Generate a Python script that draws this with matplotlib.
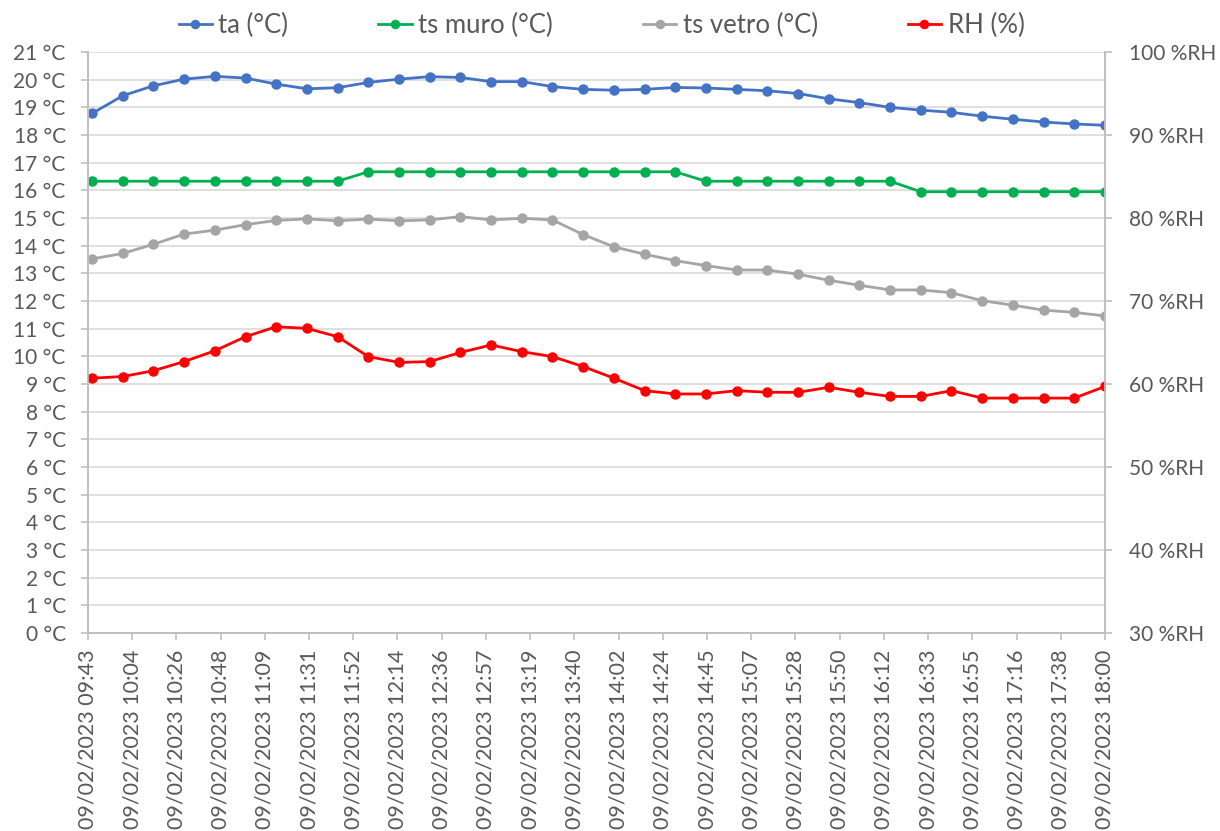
import matplotlib
matplotlib.use("Agg")
import matplotlib.pyplot as plt
import matplotlib.dates as mdates
import numpy as np
from datetime import datetime

plt.rcParams['font.family'] = ['Lato', 'DejaVu Sans']

day = "09/02/2023"
times = ["09:45", "10:00", "10:15", "10:30", "10:45", "11:00", "11:15", "11:30", "11:45",
         "12:00", "12:15", "12:30", "12:45", "13:00", "13:15", "13:30", "13:45", "14:00",
         "14:15", "14:30", "14:45", "15:00", "15:15", "15:30", "15:45", "16:00", "16:15",
         "16:30", "16:45", "17:00", "17:15", "17:30", "17:45", "18:00"]

ta = [18.78, 19.42, 19.78, 20.02, 20.12, 20.06, 19.84, 19.67, 19.71, 19.90, 20.02, 20.11,
      20.08, 19.93, 19.93, 19.75, 19.65, 19.62, 19.65, 19.72, 19.70, 19.65, 19.60, 19.50,
      19.31, 19.17, 19.00, 18.90, 18.82, 18.68, 18.57, 18.47, 18.40, 18.35]
ts_muro = [16.33] * 9 + [16.67] * 11 + [16.33] * 7 + [15.95] * 7
ts_vetro = [13.52, 13.72, 14.05, 14.42, 14.56, 14.76, 14.91, 14.97, 14.90, 14.96, 14.90, 14.93,
            15.05, 14.93, 14.99, 14.93, 14.40, 13.96, 13.69, 13.46, 13.28, 13.12, 13.12, 12.97,
            12.75, 12.57, 12.40, 12.40, 12.30, 12.01, 11.85, 11.67, 11.59, 11.46]
rh = [60.7, 60.9, 61.6, 62.7, 64.0, 65.7, 66.9, 66.7, 65.7, 63.3, 62.6, 62.7, 63.8, 64.7,
      63.9, 63.3, 62.1, 60.7, 59.2, 58.8, 58.8, 59.2, 59.0, 59.0, 59.6, 59.0, 58.5, 58.5,
      59.2, 58.3, 58.3, 58.3, 58.3, 59.7]

tick_labels = ["09:43", "10:04", "10:26", "10:48", "11:09", "11:31", "11:52", "12:14",
               "12:36", "12:57", "13:19", "13:40", "14:02", "14:24", "14:45", "15:07",
               "15:28", "15:50", "16:12", "16:33", "16:55", "17:16", "17:38", "18:00"]

x = [mdates.date2num(datetime.strptime(day + " " + t, "%d/%m/%Y %H:%M")) for t in times]
x_min = mdates.date2num(datetime.strptime(day + " 09:43", "%d/%m/%Y %H:%M"))
x_max = mdates.date2num(datetime.strptime(day + " 18:00", "%d/%m/%Y %H:%M"))

txt = "#595959"
grid = "#d9d9d9"
axis_col = "#bfbfbf"

fig = plt.figure(figsize=(12.2, 8.31), dpi=100)
ax = fig.add_axes([0.0721, 0.2383, 0.8336, 0.6991])
ax2 = ax.twinx()

kw = dict(linewidth=2.0, marker="o", markersize=6.5)
l1, = ax.plot(x, ta, color="#4472C4", label="ta (°C)", **kw)
l2, = ax.plot(x, ts_muro, color="#00B050", label="ts muro (°C)", **kw)
l3, = ax.plot(x, ts_vetro, color="#A5A5A5", label="ts vetro (°C)", **kw)
l4, = ax2.plot(x, rh, color="#FF0000", label="RH (%)", **kw)

ax.set_xlim(x_min, x_max)
ax.set_ylim(0, 21)
ax2.set_ylim(30, 100)

ax.set_yticks(range(0, 22))
ax.set_yticklabels([f"{v} °C" for v in range(0, 22)])
ax2.set_yticks(range(30, 101, 10))
ax2.set_yticklabels([f"{v} %RH" for v in range(30, 101, 10)])

ax.set_xticks(np.linspace(x_min, x_max, len(tick_labels)))
ax.set_xticklabels([day + " " + t for t in tick_labels], rotation=90)

ax.grid(axis="y", color=grid, linewidth=1.2)
ax.set_axisbelow(True)

for a in (ax, ax2):
    for s in a.spines.values():
        s.set_color(axis_col)
        s.set_linewidth(1.2)
    a.spines["top"].set_visible(False)
    a.tick_params(labelcolor=txt, color=axis_col, labelsize=15, length=5, width=1.2)
ax.tick_params(axis="y", pad=11)
ax2.tick_params(axis="y", pad=12)
ax.tick_params(axis="x", labelsize=15.5, pad=7)

fig.legend(handles=[l1, l2, l3, l4], loc="upper center", bbox_to_anchor=(0.493, 1.012),
           ncol=4, frameon=False, fontsize=18.5, labelcolor=txt, columnspacing=3.5,
           handlelength=1.3, handletextpad=0.25, markerscale=0.9)

fig.savefig("out.png", dpi=100)
